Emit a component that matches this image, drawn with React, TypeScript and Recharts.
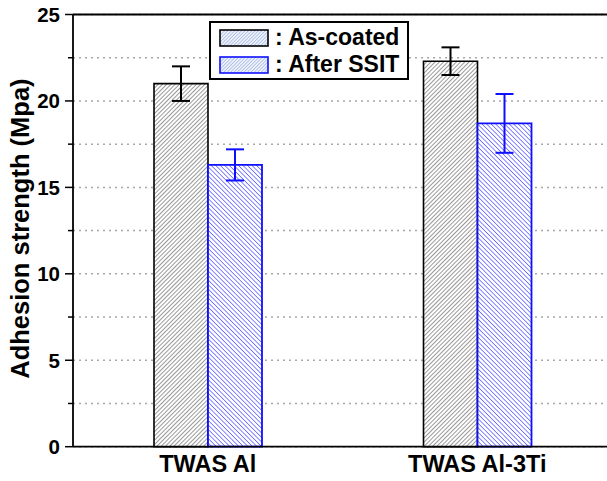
import React from "react";
import {
  BarChart,
  Bar,
  XAxis,
  YAxis,
  CartesianGrid,
  ErrorBar,
  ReferenceLine,
  Label,
} from "recharts";

const categories = ["TWAS Al", "TWAS Al-3Ti"];
const asCoated = [21.0, 22.3];
const asCoatedErr = [1.0, 0.8];
const afterSsit = [16.3, 18.7];
const afterSsitErr = [0.9, 1.7];
const yTicks = [0, 2.5, 5, 7.5, 10, 12.5, 15, 17.5, 20, 22.5, 25];

const BLUE = "#0f0fff";
const FONT = "'Liberation Sans', Arial, Helvetica, sans-serif";

const data = categories.map((name, i) => ({
  name,
  asCoated: asCoated[i],
  asCoatedErr: asCoatedErr[i],
  afterSsit: afterSsit[i],
  afterSsitErr: afterSsitErr[i],
}));

// y ticks: labelled major ticks every 5, short unlabelled minor ticks between
function YTick(props: any) {
  const { x, y, payload } = props;
  const v = payload.value as number;
  const major = v % 5 === 0;
  return (
    <g>
      <line x1={x - (major ? 8 : 5)} x2={x} y1={y} y2={y} stroke="#000" strokeWidth={1.5} />
      {major && (
        <text
          x={x - 13}
          y={y}
          textAnchor="end"
          dominantBaseline="central"
          fontSize={20.5}
          fontWeight="bold"
          fill="#000"
        >
          {v}
        </text>
      )}
    </g>
  );
}

function SwatchPattern({ id }: { id: string }) {
  return (
    <pattern id={id} width={2.4} height={2.4} patternUnits="userSpaceOnUse" patternTransform="rotate(45)">
      <rect width={2.4} height={2.4} fill="#eef2fb" />
      <line x1={0} y1={0} x2={0} y2={2.4} stroke="#7f9ad8" strokeWidth={1} />
    </pattern>
  );
}

function LegendBox() {
  const rows = [
    { label: ": As-coated", stroke: "#000", id: "swA" },
    { label: ": After SSIT", stroke: BLUE, id: "swB" },
  ];
  return (
    <div
      style={{
        position: "absolute",
        left: 209,
        top: 21,
        border: "2px solid #000",
        background: "#fff",
        width: 196,
        height: 55,
        boxSizing: "content-box",
        fontFamily: FONT,
      }}
    >
      {rows.map((r, i) => (
        <div key={r.id} style={{ display: "flex", alignItems: "center", height: 27, marginTop: i === 0 ? 1 : 0 }}>
          <svg width={50} height={18} style={{ marginLeft: 8, marginRight: 6 }}>
            <defs>
              <SwatchPattern id={r.id} />
            </defs>
            <rect x={1} y={1} width={48} height={16} fill={`url(#${r.id})`} stroke={r.stroke} strokeWidth={1.6} />
          </svg>
          <span style={{ fontSize: 23, fontWeight: "bold", color: "#000", whiteSpace: "nowrap" }}>{r.label}</span>
        </div>
      ))}
    </div>
  );
}

export default function App() {
  return (
    <div
      style={{
        position: "absolute",
        left: 0,
        top: 0,
        width: 607,
        height: 481,
        overflow: "hidden",
        background: "#fff",
        fontFamily: FONT,
      }}
    >
      <BarChart
        width={612}
        height={481}
        data={data}
        margin={{ top: 14.5, right: 0, bottom: 0, left: 0 }}
        barGap={0}
      >
        <defs>
          <pattern id="hatchBlack" width={3} height={3} patternUnits="userSpaceOnUse" patternTransform="rotate(45)">
            <rect width={3} height={3} fill="#fff" />
            <line x1={0} y1={0} x2={0} y2={3} stroke="#333" strokeWidth={1} />
          </pattern>
          <pattern id="hatchBlue" width={3.2} height={3.2} patternUnits="userSpaceOnUse" patternTransform="rotate(-45)">
            <rect width={3.2} height={3.2} fill="#fff" />
            <line x1={0} y1={0} x2={0} y2={3.2} stroke={BLUE} strokeWidth={1} />
          </pattern>
        </defs>
        <CartesianGrid
          vertical={false}
          stroke="#a8a8a8"
          strokeWidth={1.5}
          strokeDasharray="2 4"
        />
        <XAxis
          dataKey="name"
          height={34.3}
          axisLine={{ stroke: "#000", strokeWidth: 1.8 }}
          tickLine={false}
          tickSize={0}
          tickMargin={9}
          tick={{ fontSize: 23.5, fontWeight: "bold", fill: "#000" }}
          interval={0}
        />
        <YAxis
          width={73}
          domain={[0, 25]}
          ticks={yTicks}
          interval={0}
          axisLine={{ stroke: "#000", strokeWidth: 1.8 }}
          tickLine={false}
          tickSize={0}
          tickMargin={0}
          tick={<YTick />}
        >
          <Label
            content={({ viewBox }: any) => {
              const cx = 20;
              const cy = viewBox.y + viewBox.height / 2 - 2;
              return (
                <text
                  x={cx}
                  y={cy}
                  transform={`rotate(-90, ${cx}, ${cy})`}
                  textAnchor="middle"
                  dominantBaseline="central"
                  fontSize={25.5}
                  fontWeight="bold"
                  fill="#000"
                >
                  Adhesion strength (Mpa)
                </text>
              );
            }}
          />
        </YAxis>
        <ReferenceLine y={25} stroke="#000" strokeWidth={1.8} />
        <Bar
          dataKey="asCoated"
          barSize={54}
          fill="url(#hatchBlack)"
          stroke="#000"
          strokeWidth={1.6}
          isAnimationActive={false}
        >
          <ErrorBar dataKey="asCoatedErr" width={9} stroke="#000" strokeWidth={2} />
        </Bar>
        <Bar
          dataKey="afterSsit"
          barSize={54}
          fill="url(#hatchBlue)"
          stroke={BLUE}
          strokeWidth={1.8}
          isAnimationActive={false}
        >
          <ErrorBar dataKey="afterSsitErr" width={9} stroke={BLUE} strokeWidth={2} />
        </Bar>
      </BarChart>
      <LegendBox />
    </div>
  );
}
